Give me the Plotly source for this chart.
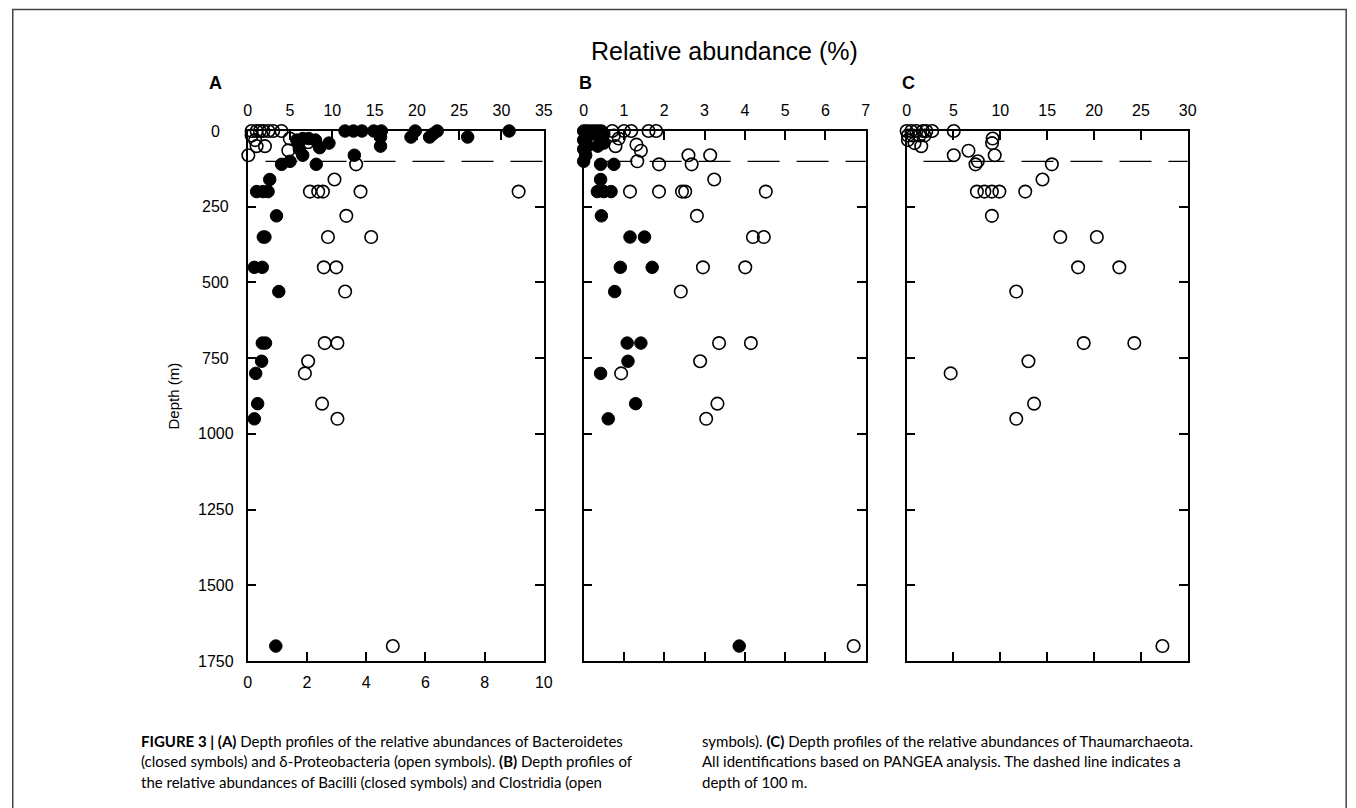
import plotly.graph_objects as go

# ---------------- data ----------------
# Panel A: Bacteroidetes (closed, top axis 0-35 %)
bact_depth = [0, 0, 0, 0, 0, 0, 0, 0, 10, 20, 20, 20, 20, 50,
              30, 25, 25, 30, 40, 40, 55, 60, 80, 80, 110, 110, 100,
              160, 200, 200, 200, 280, 350, 350, 450, 450, 530,
              700, 700, 760, 800, 900, 950, 1700]
bact_val = [11.5, 12.5, 13.5, 14.9, 15.8, 19.8, 22.4, 30.9, 21.9, 15.7, 19.3, 21.5, 26.0, 15.7,
            5.8, 6.5, 7.2, 8.0, 6.0, 9.6, 8.5, 6.1, 6.5, 12.6, 8.1, 4.0, 5.0,
            2.6, 1.05, 1.8, 2.4, 3.4, 1.84, 2.03, 0.78, 1.72, 3.67,
            1.72, 2.1, 1.64, 0.94, 1.17, 0.78, 3.32]
# Panel A: delta-Proteobacteria (open, bottom axis 0-10 %)
delta_depth = [0, 0, 0, 0, 0, 0, 0, 15, 30, 50, 50, 80, 25, 37, 64,
               110, 160, 200, 200, 200, 200, 200, 280, 350, 350, 450, 450, 530,
               700, 700, 760, 800, 900, 950, 1700]
delta_val = [0.13, 0.3, 0.41, 0.53, 0.7, 0.86, 1.14, 0.13, 0.25, 0.3, 0.58, 0.02, 1.42, 2.04, 1.37,
             3.66, 2.93, 2.1, 2.38, 2.54, 3.81, 9.15, 3.33, 2.71, 4.17, 2.57, 2.99, 3.29,
             2.6, 3.03, 2.04, 1.93, 2.51, 3.03, 4.9]

# Panel B: Bacilli (closed)
bac_depth = [0, 0, 0, 0, 0, 0, 0, 10, 10, 10, 20, 20, 30, 40, 50, 50, 60, 80, 100,
             110, 110, 160, 200, 200, 200, 280, 350, 350, 450, 450, 530,
             700, 700, 760, 800, 900, 950, 1700]
bac_val = [0.0, 0.05, 0.12, 0.2, 0.28, 0.36, 0.44, 0.05, 0.3, 0.5, 0.1, 0.4, 0.0, 0.5, 0.1, 0.35, 0.0, 0.05, 0.0,
           0.42, 0.75, 0.42, 0.34, 0.5, 0.68, 0.44, 1.15, 1.51, 0.91, 1.7, 0.77,
           1.08, 1.42, 1.1, 0.42, 1.29, 0.61, 3.86]
# Panel B: Clostridia (open)
clos_depth = [0, 0, 0, 0, 0, 15, 25, 50, 45, 65, 80, 80, 100, 110, 110,
              160, 200, 200, 200, 200, 200, 280, 350, 350, 450, 450, 530,
              700, 700, 760, 800, 900, 950, 1700]
clos_val = [0.71, 1.0, 1.18, 1.61, 1.8, 0.75, 0.87, 0.79, 1.31, 1.42, 2.6, 3.14, 1.33, 1.87, 2.68,
            3.24, 1.15, 1.87, 2.44, 2.52, 4.52, 2.81, 4.2, 4.47, 2.96, 4.01, 2.41,
            3.36, 4.15, 2.89, 0.93, 3.32, 3.04, 6.7]

# Panel C: Thaumarchaeota (open)
thaum_depth = [0, 0, 0, 0, 0, 0, 0, 15, 15, 15, 15, 30, 40, 50, 25, 40,
               65, 80, 80, 100, 110, 110, 160, 200, 200, 200, 200, 200, 280,
               350, 350, 450, 450, 530, 700, 700, 760, 800, 900, 950, 1700]
thaum_val = [0.0, 0.5, 1.03, 1.74, 2.1, 2.73, 5.03, 0.14, 0.67, 1.38, 1.91, 0.14, 0.85, 1.56, 9.18, 9.12,
             6.6, 5.03, 9.4, 7.6, 7.35, 15.5, 14.5, 7.5, 8.3, 9.1, 9.9, 12.66, 9.1,
             16.4, 20.3, 18.3, 22.7, 11.7, 18.9, 24.3, 13.0, 4.7, 13.6, 11.7, 27.3]

ref_depth = 100  # dashed reference line
depth_ticks = [0, 250, 500, 750, 1000, 1250, 1500, 1750]

caption_left = [
    "<b>FIGURE 3 | (A)</b> Depth profiles of the relative abundances of Bacteroidetes",
    "(closed symbols) and δ-Proteobacteria (open symbols). <b>(B)</b> Depth profiles of",
    "the relative abundances of Bacilli (closed symbols) and Clostridia (open",
]
caption_right = [
    "symbols). <b>(C)</b> Depth profiles of the relative abundances of Thaumarchaeota.",
    "All identifications based on PANGEA analysis. The dashed line indicates a",
    "depth of 100 m.",
]

# ---------------- layout geometry ----------------
W, H = 1356, 808
# measured mapping from figure pixels to photographed pixels
AX, BX = 0.9936, 9.5
OFF_Y = 7.5
def px(x):
    return ((x - BX) / AX) / W
def py(y):
    return 1 - (y - OFF_Y) / H

Y_DOM = [py(660.7), py(130.5)]
A_DOM = [px(246), px(543)]
B_DOM = [px(583), px(866)]
C_DOM = [px(907), px(1189)]

FONT = "Liberation Sans, Arial, Helvetica, sans-serif"
CAPFONT = "Lato, Liberation Sans, sans-serif"

fig = go.Figure()

closed = dict(symbol="circle", size=12.5, color="black", line=dict(color="black", width=1))
opened = dict(symbol="circle-open", size=12.5, color="black", line=dict(color="black", width=1.6))

fig.add_trace(go.Scatter(x=delta_val, y=delta_depth, xaxis="x2", yaxis="y", mode="markers",
                         marker=opened, cliponaxis=False, name="δ-Proteobacteria"))
fig.add_trace(go.Scatter(x=bact_val, y=bact_depth, xaxis="x", yaxis="y", mode="markers",
                         marker=closed, cliponaxis=False, name="Bacteroidetes"))
fig.add_trace(go.Scatter(x=clos_val, y=clos_depth, xaxis="x3", yaxis="y2", mode="markers",
                         marker=opened, cliponaxis=False, name="Clostridia"))
fig.add_trace(go.Scatter(x=bac_val, y=bac_depth, xaxis="x3", yaxis="y2", mode="markers",
                         marker=closed, cliponaxis=False, name="Bacilli"))
fig.add_trace(go.Scatter(x=thaum_val, y=thaum_depth, xaxis="x4", yaxis="y3", mode="markers",
                         marker=opened, cliponaxis=False, name="Thaumarchaeota"))

axis_common = dict(showline=True, linecolor="black", linewidth=1.5, ticks="inside",
                   ticklen=9, tickwidth=1.5, tickcolor="black", showgrid=False, zeroline=False,
                   tickfont=dict(family=FONT, size=16, color="black"))

fig.update_layout(
    xaxis=dict(domain=A_DOM, range=[0, 35], dtick=5, side="top", anchor="y",
               ticklabelstandoff=7, **axis_common),
    xaxis2=dict(domain=A_DOM, range=[0, 10], dtick=2, side="bottom", anchor="y", overlaying="x",
                ticklabelstandoff=6, **axis_common),
    xaxis3=dict(domain=B_DOM, range=[0, 7], dtick=1, side="top", anchor="y2", mirror="ticks",
                ticklabelstandoff=7, **axis_common),
    xaxis4=dict(domain=C_DOM, range=[0, 30], dtick=5, side="top", anchor="y3", mirror="ticks",
                ticklabelstandoff=7, **axis_common),
    yaxis=dict(domain=Y_DOM, range=[1750, 0], tickvals=depth_ticks, anchor="x", mirror="ticks",
               showticklabels=False, **axis_common),
    yaxis2=dict(domain=Y_DOM, range=[1750, 0], tickvals=depth_ticks, anchor="x3", mirror="ticks",
                showticklabels=False, **axis_common),
    yaxis3=dict(domain=Y_DOM, range=[1750, 0], tickvals=depth_ticks, anchor="x4", mirror="ticks",
                showticklabels=False, **axis_common),
)

# dashed 100 m lines
for xr, yr in [("x domain", "y"), ("x3 domain", "y2"), ("x4 domain", "y3")]:
    fig.add_shape(type="line", xref=xr, yref=yr, x0=0.06, x1=1.0, y0=ref_depth, y1=ref_depth,
                  line=dict(color="black", width=1.3, dash="32px,17px"))

# page border
fig.add_shape(type="rect", xref="paper", yref="paper", x0=0.75 / W, x1=min(px(1348), 1 - 0.75 / W),
              y0=-0.05, y1=py(9),
              line=dict(color="#444444", width=1.5), fillcolor="rgba(0,0,0,0)")

ann = []
# depth tick labels (centred, as in the original), placed through the y axis scale
for t in depth_ticks:
    ann.append(dict(text=str(t), x=px(214), y=t, xref="paper", yref="y",
                    xanchor="center", yanchor="middle", showarrow=False,
                    font=dict(family=FONT, size=16, color="black")))
ann.append(dict(text="Relative abundance (%)", x=px(724), y=py(51), xref="paper", yref="paper",
                xanchor="center", yanchor="middle",
                showarrow=False, font=dict(family=FONT, size=25, color="black")))
for lab, xx in [("A", 214), ("B", 585), ("C", 909)]:
    ann.append(dict(text=f"<b>{lab}</b>", x=px(xx), y=py(82), xref="paper", yref="paper",
                    xanchor="center", yanchor="middle",
                    showarrow=False, font=dict(family=FONT, size=18, color="black")))
ann.append(dict(text="Depth (m)", x=px(172), y=py(395), xref="paper", yref="paper", textangle=-90,
                xanchor="center", yanchor="middle",
                showarrow=False, font=dict(family=FONT, size=15, color="black")))
for i, line in enumerate(caption_left):
    ann.append(dict(text=line, x=px(137), y=py(740 + 20.5 * i), xref="paper", yref="paper",
                    xanchor="left", yanchor="middle", showarrow=False,
                    font=dict(family=CAPFONT, size=15, color="black")))
for i, line in enumerate(caption_right):
    ann.append(dict(text=line, x=px(700), y=py(740 + 20.5 * i), xref="paper", yref="paper",
                    xanchor="left", yanchor="middle", showarrow=False,
                    font=dict(family=CAPFONT, size=15, color="black")))

fig.update_layout(annotations=ann, width=W, height=H, margin=dict(l=0, r=0, t=0, b=0),
                  paper_bgcolor="white", plot_bgcolor="white", showlegend=False)

fig.write_html("out.html")
